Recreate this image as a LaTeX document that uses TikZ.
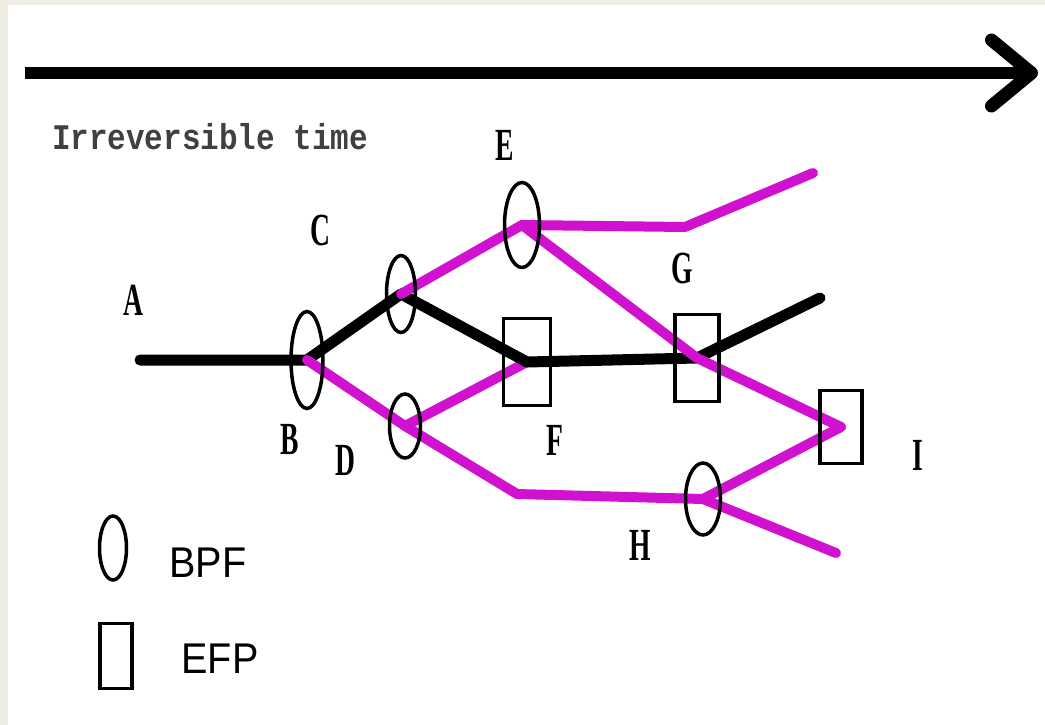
\documentclass[tikz,border=0pt]{standalone}
\usepackage{fontspec}
\setmainfont{Liberation Serif}
\newfontfamily\legendfont{Liberation Sans}
\newfontfamily\timefont{Liberation Mono}
\usetikzlibrary{shapes.geometric,arrows.meta,backgrounds}

\definecolor{framebeige}{RGB}{239,236,228}
\definecolor{pathpink}{RGB}{208,18,208}

\begin{document}
\begin{tikzpicture}[x=1pt,y=-1pt,
  bpf/.style={draw,ellipse,line width=3.5pt,inner sep=0pt},
  efp/.style={draw,rectangle,line width=3.5pt,inner sep=0pt},
  letter/.style={font=\bfseries\fontsize{46}{46}\selectfont,xscale=0.6,inner sep=0pt},
  legendtext/.style={font=\legendfont\fontsize{43}{43}\selectfont,xscale=0.92,inner sep=0pt},
  blackpath/.style={line width=11pt,line join=round,line cap=round},
  pinkpath/.style={pathpink,line width=10pt,line join=round,line cap=round},
  timearrow/.style={line width=12pt,-{Straight Barb[length=40pt,width=66pt,line width=13pt,round]}}]
\useasboundingbox (0,0) rectangle (1045,725);

% Nodes
\node[bpf,minimum width=32pt,minimum height=97pt] (B) at (307,360) {};
\node[bpf,minimum width=29pt,minimum height=77pt] (C) at (401,294) {};
\node[bpf,minimum width=31pt,minimum height=64pt] (D) at (405,426) {};
\node[bpf,minimum width=35pt,minimum height=85pt] (E) at (522,225) {};
\node[efp,minimum width=47pt,minimum height=87pt] (F) at (527,362) {};
\node[efp,minimum width=44pt,minimum height=87pt] (G) at (697,358) {};
\node[bpf,minimum width=35pt,minimum height=72pt] (H) at (703,499) {};
\node[efp,minimum width=42pt,minimum height=73pt] (I) at (841,427) {};

\coordinate (start) at (140,360);
\coordinate (blackend) at (820,298);
\coordinate (topbend) at (685,227);
\coordinate (topend) at (813,173);
\coordinate (lowbend) at (517,494);
\coordinate (lowend) at (836,553);
\coordinate (tstart) at (25,73);
\coordinate (tend) at (1038,73);

% Labels
\node[font=\timefont\bfseries\fontsize{36}{36}\selectfont,text=black!75,xscale=0.86,inner sep=0pt] (timetext) at (210,137) {Irreversible time};
\node[letter] (la) at (133,300) {A};
\node[letter] (lb) at (290,440) {B};
\node[letter] (lc) at (320,230) {C};
\node[letter] (ld) at (345,460) {D};
\node[letter] (le) at (505,145) {E};
\node[letter] (lf) at (555,440) {F};
\node[letter] (lg) at (682,268) {G};
\node[letter] (lh) at (640,545) {H};
\node[letter] (li) at (918,455) {I};

% Legend
\node[bpf,minimum width=27pt,minimum height=64pt] (bpfkey) at (113,548) {};
\node[efp,minimum width=32pt,minimum height=65pt] (efpkey) at (116,656) {};
\node[legendtext] (bpftext) at (208,563) {BPF};
\node[legendtext] (efptext) at (220,659) {EFP};

% Lines
\begin{scope}[on background layer]
\fill[framebeige] (0,0) rectangle (1045,725);
\fill[white] (8,5) rectangle (1045,725);
\draw[timearrow] (tstart) -- (tend);
\draw[pinkpath] (D.center) -- (F.center);
\draw[blackpath] (start) -- (B.center) -- (C.center) -- (F.center) -- (G.center) -- (blackend);
\draw[pinkpath] (B.center) -- (D.center) -- (lowbend) -- (H.center) -- (I.center);
\draw[pinkpath] (H.center) -- (lowend);
\draw[pinkpath] (C.center) -- (E.center) -- (topbend) -- (topend);
\draw[pinkpath] (E.center) -- (G.center) -- (I.center);
\end{scope}
\end{tikzpicture}
\end{document}
